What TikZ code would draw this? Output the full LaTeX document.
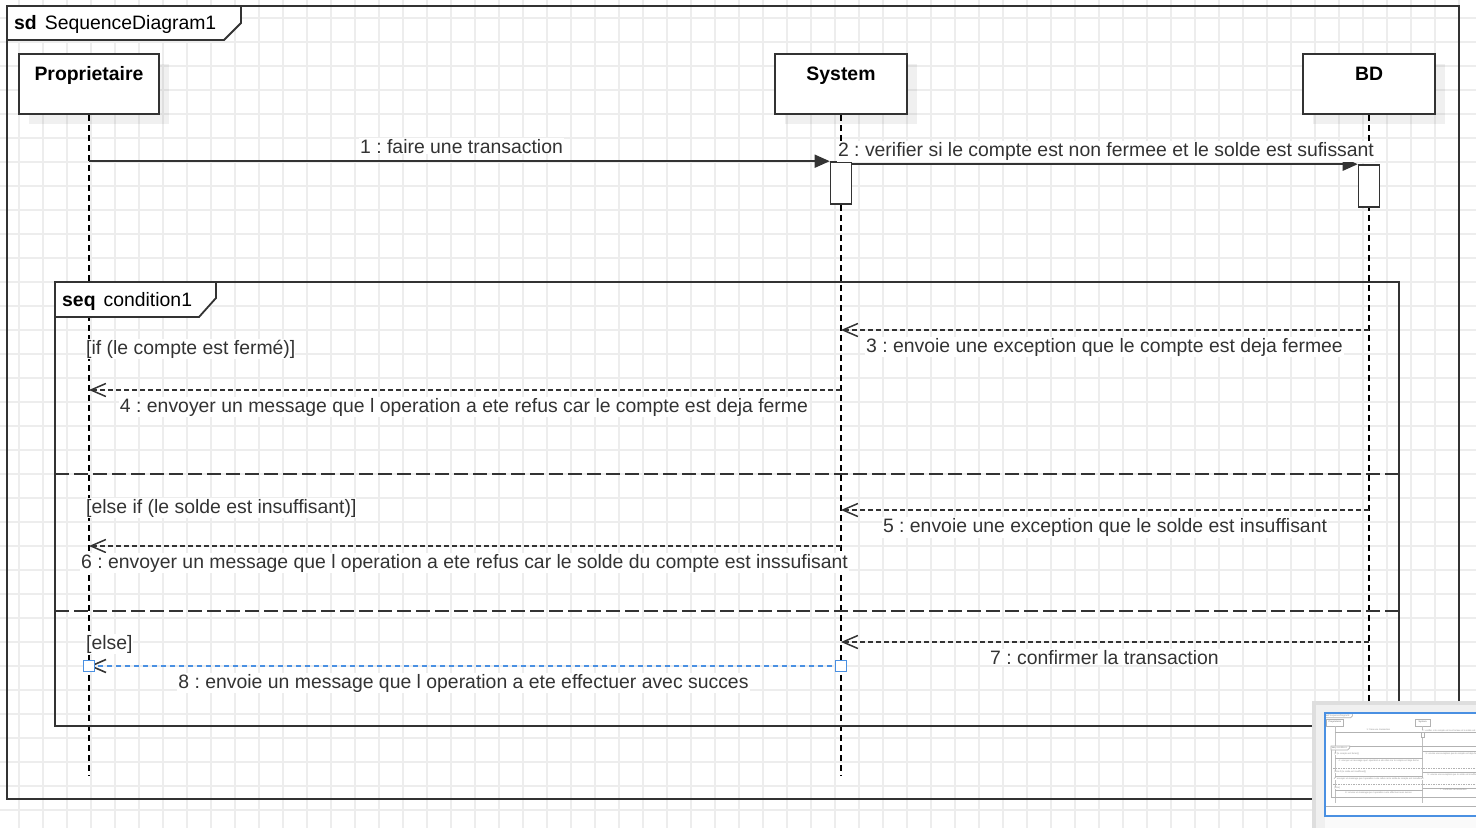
\documentclass[tikz,border=0pt]{standalone}
\usepackage{fontspec}
\setmainfont{Liberation Sans}
\usetikzlibrary{arrows.meta,shadows}
\definecolor{ink}{HTML}{333333}
\definecolor{gridc}{HTML}{EDEDED}
\definecolor{selblue}{HTML}{4A90E2}
\newcommand{\dfont}{\fontsize{19.4pt}{23pt}\selectfont}
\frenchspacing

\tikzset{
  gridln/.style={draw=gridc, line width=1.6pt},
  frm/.style={draw=ink, line width=1.8pt, inner sep=0pt, outer sep=0pt},
  frmlbl/.style={draw=ink, fill=white, line width=1.8pt},
  hdr/.style={font=\dfont, text=black, inner sep=0pt},
  lifehead/.style={draw=ink, fill=white, line width=1.6pt, minimum height=60pt,
    inner xsep=2pt, inner ysep=0pt, text height=26.5pt, text depth=33.5pt,
    font=\dfont\bfseries, text=black,
    drop shadow={shadow xshift=10pt, shadow yshift=-10pt, fill=black, opacity=0.06}},
  lifeln/.style={draw=black, line width=1.4pt, dash pattern=on 6pt off 4pt},
  actbar/.style={draw=ink, fill=white, line width=1.6pt, minimum width=21pt,
    minimum height=42pt, inner sep=0pt},
  syncmsg/.style={draw=ink, line width=1.6pt, -{Triangle[length=15pt,width=13pt]}},
  retmsg/.style={draw=ink, line width=1.5pt, dash pattern=on 5pt off 3pt,
    -{Straight Barb[length=15pt,width=13pt]}},
  selmsg/.style={draw=selblue, line width=1.6pt, dash pattern=on 5pt off 4pt,
    -{Straight Barb[length=15pt,width=13pt,color=ink]}},
  sepline/.style={draw=ink, line width=1.8pt, dash pattern=on 14pt off 5pt},
  msglbl/.style={font=\dfont, text=ink, fill=white, inner xsep=1pt, inner ysep=1pt},
  guard/.style={font=\dfont, text=ink, fill=white, inner xsep=0pt, inner ysep=1pt},
  handle/.style={draw=selblue, fill=white, line width=1.5pt, minimum size=11pt, inner sep=0pt},
}

\newcommand{\seqcontent}{%
  % outer frame
  \node[frm, anchor=north west, minimum width=1452pt, minimum height=793pt] (sdf) at (7,6) {};
  \filldraw[frmlbl] (sdf.north west) -- ++(234,0) -- ++(0,17) -- ++(-17,17) -- ++(-217,0) -- cycle;
  \node[hdr, anchor=base west] (sdtitle) at (14,29) {\textbf{sd}\hspace{8pt}SequenceDiagram1};
  % lifelines
  \node[lifehead, minimum width=140pt] (prop) at (89,84) {Proprietaire};
  \node[lifehead, minimum width=132pt] (sys) at (841,84) {System};
  \node[lifehead, minimum width=132pt] (bd) at (1369,84) {BD};
  \draw[lifeln] (prop.south) -- (prop.south |- 0,775);
  \draw[lifeln] (sys.south) -- (sys.south |- 0,775);
  \draw[lifeln] (bd.south) -- (bd.south |- 0,775);
  \node[actbar] (act1) at (841,183) {};
  \node[actbar] (act2) at (1369,186) {};
  % combined fragment
  \node[frm, anchor=north west, minimum width=1344pt, minimum height=444pt] (seqf) at (55,282) {};
  \filldraw[frmlbl] (seqf.north west) -- ++(161,0) -- ++(0,16) -- ++(-17,19) -- ++(-144,0) -- cycle;
  \node[hdr, anchor=base west] (seqtitle) at (62,306) {\textbf{seq}\hspace{8pt}condition1};
  \draw[sepline] (seqf.west |- 0,474) -- (seqf.east |- 0,474);
  \draw[sepline] (seqf.west |- 0,611) -- (seqf.east |- 0,611);
  % messages
  \draw[syncmsg] (prop.south |- act1.north) -- (act1.north west);
  \draw[syncmsg] (act1.east |- act2.north) -- (act2.north west);
  \draw[retmsg] (bd.south |- 0,330) -- (sys.south |- 0,330);
  \draw[retmsg] (sys.south |- 0,390) -- (prop.south |- 0,390);
  \draw[retmsg] (bd.south |- 0,510) -- (sys.south |- 0,510);
  \draw[retmsg] (sys.south |- 0,546) -- (prop.south |- 0,546);
  \draw[retmsg] (bd.south |- 0,642) -- (sys.south |- 0,642);
  \draw[selmsg] (sys.south |- 0,666) -- (prop.south |- 0,666);
  % labels
  \node[msglbl, anchor=base] (l1) at (461.5,153) {1 : faire une transaction};
  \node[msglbl, anchor=base] (l2) at (1106,156.5) {2 : verifier si le compte est non fermee et le solde est sufissant};
  \node[msglbl, anchor=base] (l3) at (1104.5,352) {3 : envoie une exception que le compte est deja fermee};
  \node[msglbl, anchor=base] (l4) at (464,412) {4 : envoyer un message que l operation a ete refus car le compte est deja ferme};
  \node[msglbl, anchor=base] (l5) at (1105,532.5) {5 : envoie une exception que le solde est insuffisant};
  \node[msglbl, anchor=base] (l6) at (464.5,568) {6 : envoyer un message que l operation a ete refus car le solde du compte est inssufisant};
  \node[msglbl, anchor=base] (l7) at (1104.5,664) {7 : confirmer la transaction};
  \node[msglbl, anchor=base] (l8) at (463.5,688) {8 : envoie un message que l operation a ete effectuer avec succes};
  \node[guard, anchor=base west] (g1) at (86,354) {[if (le compte est fermé)]};
  \node[guard, anchor=base west] (g2) at (86,513) {[else if (le solde est insuffisant)]};
  \node[guard, anchor=base west] (g3) at (86,649) {[else]};
  \node[handle] (h1) at (prop.south |- 0,666) {};
  \node[handle] (h2) at (sys.south |- 0,666) {};
}

\begin{document}
\begin{tikzpicture}[x=1pt, y=-1pt]
  \useasboundingbox (0,0) rectangle (1476,828);
  \fill[white] (0,0) rectangle (1476,828);
  \foreach \i in {0,...,61} { \draw[gridln] (19+24*\i,0) -- (19+24*\i,828); }
  \foreach \j in {0,...,34} { \draw[gridln] (0,18+24*\j) -- (1476,18+24*\j); }

  \seqcontent

  % overview (minimap) panel
  \fill[black!13] (1312,701) rectangle (1476,828);
  \fill[black!6] (1316,705) rectangle (1476,828);
  \fill[black!2] (1324.5,713) rectangle (1476,828);
  \begin{scope}
    \clip (1324.5,713) rectangle (1476,816);
    \fill[white] (1324.5,713) rectangle (1476,816);
    \begin{scope}[shift={(1324.5,713)}, scale=0.1167, transform shape,
      frm/.style={draw=black!30, line width=0.7pt, inner sep=0pt, outer sep=0pt},
      frmlbl/.style={draw=black!30, fill=white, line width=0.7pt},
      hdr/.style={font=\dfont, text=black!45, inner sep=0pt},
      lifehead/.style={draw=black!30, fill=white, line width=0.7pt, minimum height=60pt,
        inner xsep=2pt, inner ysep=0pt, text height=26.5pt, text depth=33.5pt,
        font=\dfont\bfseries, text=black!45},
      lifeln/.style={draw=black!25, line width=0.5pt},
      actbar/.style={draw=black!30, fill=white, line width=0.6pt, minimum width=21pt,
        minimum height=42pt, inner sep=0pt},
      syncmsg/.style={draw=black!30, line width=0.6pt},
      retmsg/.style={draw=black!30, line width=0.6pt},
      selmsg/.style={draw=black!30, line width=0.6pt},
      sepline/.style={draw=black!30, line width=0.6pt, dash pattern=on 1.5pt off 1pt},
      msglbl/.style={font=\dfont, text=black!45, fill=white, inner sep=1pt},
      guard/.style={font=\dfont, text=black!45, fill=white, inner sep=0pt},
      handle/.style={inner sep=0pt, minimum size=0pt}]
      \seqcontent
    \end{scope}
  \end{scope}
  \draw[selblue, line width=2pt] (1324.5,713) rectangle (1490,815.7);
\end{tikzpicture}
\end{document}
